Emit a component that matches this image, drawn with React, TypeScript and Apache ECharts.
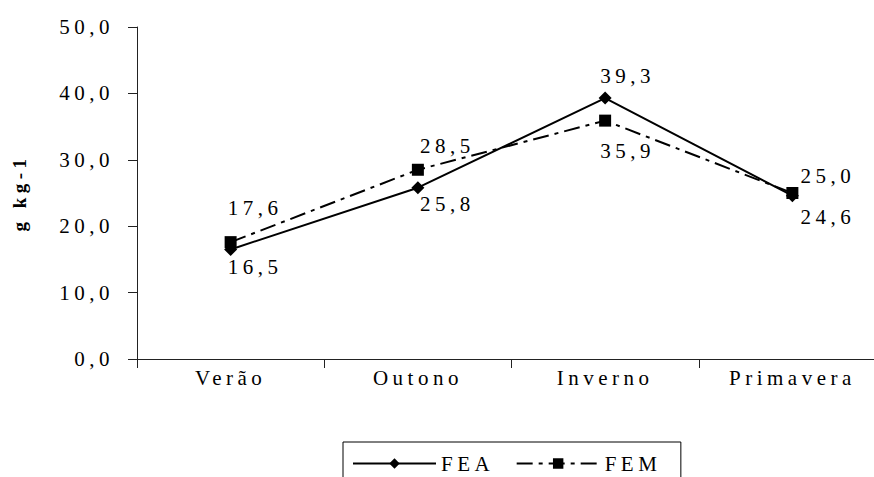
import React, { useEffect, useRef } from "react";
import * as echarts from "echarts";

const categories = ["Verão", "Outono", "Inverno", "Primavera"];
const feaValues = [16.5, 25.8, 39.3, 24.6];
const femValues = [17.6, 28.5, 35.9, 25.0];
const yTicks = { min: 0, max: 50, interval: 10 };

// label offsets (px) relative to each point, as placed in the reference
const feaLabelOffsets = [[-3, 18], [2, 16], [-5, -22], [8, 21]];
const femLabelOffsets = [[-3, -34], [2, -24], [-5, 30], [8, -17]];

const FONT = "Liberation Serif, Times New Roman, serif";
const fmt = (v: number) => v.toFixed(1).replace(".", ",");

export default function App() {
  const ref = useRef<HTMLDivElement>(null);
  useEffect(() => {
    if (!ref.current) return;
    const chart = echarts.init(ref.current, undefined, { renderer: "svg" });
    const labelBase = {
      show: true,
      position: "inside",
      align: "left",
      verticalAlign: "middle",
      fontFamily: FONT,
      fontSize: 21,
      color: "#000",
      formatter: (p: any) => fmt(p.value),
    };
    chart.setOption({
      animation: false,
      backgroundColor: "#fff",
      textStyle: { fontFamily: FONT, color: "#000" },
      grid: {
        left: 137,
        width: 749,
        top: 27,
        height: 332,
        containLabel: false,
        outerBoundsMode: "none",
      },
      xAxis: {
        type: "category",
        data: categories,
        boundaryGap: true,
        axisLine: { lineStyle: { color: "#222", width: 1 } },
        axisTick: { show: true, length: 9, inside: false, lineStyle: { color: "#222" } },
        axisLabel: { fontFamily: FONT, fontSize: 21, color: "#000", margin: 8 },
        splitLine: { show: false },
      },
      yAxis: {
        type: "value",
        min: yTicks.min,
        max: yTicks.max,
        interval: yTicks.interval,
        name: "g kg-1",
        nameLocation: "middle",
        nameGap: 108,
        nameRotate: 90,
        nameTextStyle: { fontFamily: FONT, fontSize: 19, fontWeight: "bold", color: "#000" },
        axisLine: { show: true, lineStyle: { color: "#222", width: 1 } },
        axisTick: { show: true, length: 9, lineStyle: { color: "#222" } },
        axisLabel: {
          fontFamily: FONT,
          fontSize: 21,
          color: "#000",
          margin: 23,
          formatter: (v: number) => fmt(v),
        },
        splitLine: { show: false },
      },
      legend: {
        left: 343,
        top: 442,
        orient: "horizontal",
        padding: [11, 33, 20, 9],
        borderColor: "#000",
        borderWidth: 1,
        itemWidth: 83,
        itemHeight: 13,
        itemGap: 35,
        textStyle: { fontFamily: FONT, fontSize: 21, color: "#000" },
        data: ["FEA", "FEM"],
      },
      series: [
        {
          name: "FEA",
          type: "line",
          symbol: "diamond",
          symbolSize: 13,
          color: "#000",
          lineStyle: { color: "#000", width: 2, type: "solid" },
          itemStyle: { color: "#000" },
          label: labelBase,
          data: feaValues.map((v, i) => ({ value: v, label: { offset: feaLabelOffsets[i] } })),
        },
        {
          name: "FEM",
          type: "line",
          symbol: "rect",
          symbolSize: 12,
          color: "#000",
          lineStyle: { color: "#000", width: 2, type: [16, 6, 4, 6] },
          itemStyle: { color: "#000" },
          label: labelBase,
          data: femValues.map((v, i) => ({ value: v, label: { offset: femLabelOffsets[i] } })),
        },
      ],
    });
    return () => chart.dispose();
  }, []);
  return (
    <div
      ref={ref}
      style={{
        position: "absolute",
        left: 0,
        top: 0,
        width: 874,
        height: 477,
        letterSpacing: "4.5px",
        background: "#fff",
        fontFamily: "Liberation Serif, serif",
      }}
    />
  );
}
